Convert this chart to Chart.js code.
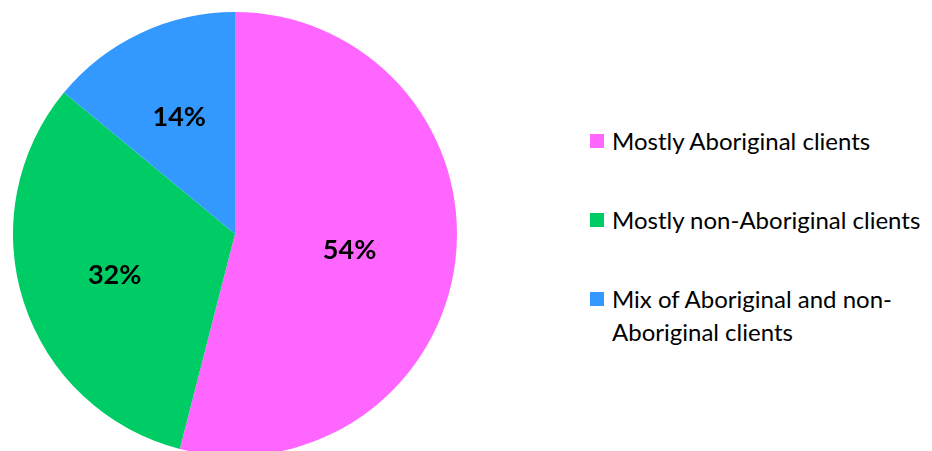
<!DOCTYPE html>
<html>
<head>
<meta charset="utf-8">
<script src="https://cdn.jsdelivr.net/npm/chart.js@4"></script>
<style>
  html, body { margin: 0; padding: 0; background: #fff; overflow: hidden; }
  #wrap { position: relative; width: 932px; height: 451px; }
  #pie { position: absolute; left: 0; top: 0; }
  .legend-item { position: absolute; left: 590px; font-family: Lato, 'Open Sans', sans-serif; font-size: 24px; line-height: 33px; color: #000; }
  .legend-item .box { position: absolute; left: 0; top: 10px; width: 14px; height: 14px; }
  .legend-item .txt { margin-left: 22px; white-space: nowrap; }
</style>
</head>
<body>
<div id="wrap">
  <canvas id="pie" width="470" height="470"></canvas>
  <div id="legend"></div>
</div>
<script>
const categories = ['Mostly Aboriginal clients', 'Mostly non-Aboriginal clients', 'Mix of Aboriginal and non-Aboriginal clients'];
const legendLines = [['Mostly Aboriginal clients'], ['Mostly non-Aboriginal clients'], ['Mix of Aboriginal and non-', 'Aboriginal clients']];
const shares = [54, 32, 14];
const colors = ['#ff66ff', '#00cc66', '#3399ff'];

// how far out (fraction of radius) each percent label sits
const labelRadius = [0.52, 0.57, 0.59];

/* ── Percent labels inside slices ── */
const sliceLabels = {
  id: 'sliceLabels',
  afterDatasetsDraw(chart) {
    const ctx = chart.ctx;
    const meta = chart.getDatasetMeta(0);
    ctx.save();
    ctx.font = 'bold 27px Lato, sans-serif';
    ctx.fillStyle = '#000';
    ctx.textAlign = 'center';
    ctx.textBaseline = 'middle';
    meta.data.forEach((arc, i) => {
      const p = arc.getProps(['x', 'y', 'startAngle', 'endAngle', 'outerRadius'], true);
      const mid = (p.startAngle + p.endAngle) / 2;
      const r = p.outerRadius * labelRadius[i];
      ctx.fillText(shares[i] + '%', p.x + Math.cos(mid) * r, p.y + Math.sin(mid) * r + 2);
    });
    ctx.restore();
  }
};

new Chart(document.getElementById('pie').getContext('2d'), {
  type: 'pie',
  data: {
    labels: categories,
    datasets: [{
      data: shares,
      backgroundColor: colors,
      borderWidth: 0,
      hoverOffset: 0,
      offset: 0
    }]
  },
  options: {
    responsive: false,
    animation: false,
    devicePixelRatio: 1,
    layout: { padding: { left: 13, right: 13, top: 12, bottom: 14 } },
    plugins: { legend: { display: false }, tooltip: { enabled: false } }
  },
  plugins: [sliceLabels]
});

/* ── HTML legend ── */
const legendTops = [124, 203, 282];
const legend = document.getElementById('legend');
legendLines.forEach((lines, i) => {
  const item = document.createElement('div');
  item.className = 'legend-item';
  item.style.top = legendTops[i] + 'px';
  item.innerHTML = '<span class="box" style="background:' + colors[i] + '"></span>' +
    '<div class="txt">' + lines.join('<br>') + '</div>';
  legend.appendChild(item);
});
</script>
</body>
</html>
